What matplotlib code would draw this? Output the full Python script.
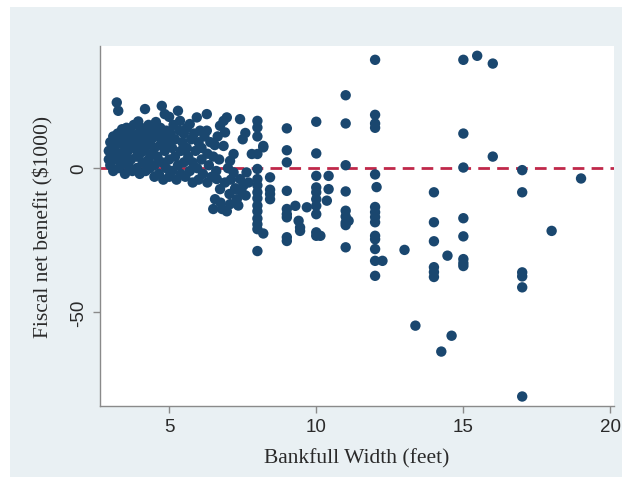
import matplotlib
matplotlib.use("Agg")
import matplotlib.pyplot as plt
from matplotlib.patches import Rectangle

plt.rcParams["axes.unicode_minus"] = False

# ---- data ----
width = [
    # dense cluster, x ~ 2.9 - 3.5
    2.95, 2.95, 3.0, 3.0, 3.05, 3.1, 3.1, 3.15, 3.2, 3.22, 3.27, 3.25, 3.3, 3.3, 3.35, 3.4, 3.4, 3.45, 3.5, 3.5, 3.5,
    # x ~ 3.5 - 4.0
    3.55, 3.6, 3.6, 3.65, 3.7, 3.7, 3.75, 3.8, 3.8, 3.85, 3.9, 3.9, 3.95, 3.95, 4.0, 4.0, 4.0,
    # x ~ 4.0 - 4.5
    4.05, 4.1, 4.1, 4.15, 4.18, 4.2, 4.2, 4.25, 4.3, 4.3, 4.35, 4.4, 4.4, 4.45, 4.5, 4.5, 4.5,
    # x ~ 4.5 - 5.0
    4.55, 4.6, 4.6, 4.65, 4.7, 4.7, 4.75, 4.75, 4.8, 4.8, 4.85, 4.85, 4.9, 4.9, 4.95, 5.0, 5.0, 5.0,
    # x ~ 5.0 - 5.5
    5.05, 5.1, 5.1, 5.15, 5.2, 5.2, 5.25, 5.3, 5.3, 5.35, 5.37, 5.4, 5.4, 5.45, 5.5, 5.5,
    # x ~ 5.5 - 6.0
    5.55, 5.6, 5.6, 5.65, 5.7, 5.7, 5.75, 5.8, 5.8, 5.85, 5.9, 5.94, 5.95, 6.0, 6.0,
    # x ~ 6.0 - 6.5
    6.05, 6.1, 6.1, 6.15, 6.2, 6.28, 6.28, 6.3, 6.3, 6.35, 6.4, 6.45, 6.5,
    # x ~ 6.5 - 7.8
    6.55, 6.6, 6.62, 6.65, 6.7, 6.73, 6.73, 6.75, 6.8, 6.85, 6.85, 6.9, 6.9, 6.96, 6.96, 7.0, 7.05, 7.07,
    7.1, 7.19, 7.19, 7.25, 7.3, 7.35, 7.41, 7.41, 7.45, 7.52, 7.59, 7.6, 7.63, 7.7, 7.81, 7.5,
    6.5, 6.56, 7.07, 7.24,
    # x = 8 column
    8.0, 8.0, 8.0, 8.2, 8.2, 8.0, 8.0, 8.0, 8.0, 8.0, 8.0, 8.0, 8.0, 8.0, 8.0, 8.0, 8.2, 8.0,
    8.43, 8.43, 8.43, 8.43,
    # x = 9
    9.0, 9.0, 9.0, 9.0, 9.0, 9.0, 9.0, 9.0, 9.0, 9.29, 9.4, 9.45, 9.45, 9.68,
    # x = 10
    10.0, 10.0, 10.0, 10.0, 10.0, 10.0, 10.0, 10.0, 10.0, 10.0, 10.14, 10.42, 10.42, 10.36,
    # x = 11
    11.0, 11.0, 11.0, 11.0, 11.0, 11.0, 11.0, 11.0, 11.1, 11.0,
    # x = 12
    12.0, 12.0, 12.0, 12.0, 12.0, 12.05, 12.0, 12.0, 12.0, 12.0, 12.0, 12.0, 12.0, 12.0, 12.25, 12.0,
    # sparse right part
    13.0, 13.37,
    14.0, 14.0, 14.0, 14.0, 14.0, 14.0, 14.46, 14.6, 14.25,
    15.0, 15.0, 15.0, 15.0, 15.0, 15.0, 15.0, 15.0,
    15.47, 16.0, 16.0,
    17.0, 17.0, 17.0, 17.0, 17.0, 17.0,
    18.0, 19.0,
]

benefit = [
    6, 3, 9, 1, 5, 11, -1, 7, 3, 22.8, 19.9, 12, 9, 0, 5, 13.5, 2, 8, 11, -2, 4,
    14, 6, 1, 9, 12, 3, -1, 7, 15, 10, 4, 0, 16.2, 12, 8, -2, 5,
    14, 10, 2, 6, 20.5, 12, -1, 8, 15, 3, 0, 10, 5, 13, -3, 7, 1,
    16, 11, 4, -2, 8, 14, 21.6, 2, 11, -4, 18.75, 6, 0, 13, 9, 17.8, 3, -3,
    12, 7, -1, 15, 4, 10, -4, 19.9, 1, 13, 16.4, 6, -2, 9, 12, 2,
    -3, 7, 14, 4, 15.3, -1, 10, 2, -5, 12, 6, 17.6, 0, 9, -4,
    13, 3, 7, -2, 11, 18.75, 13, 5, -5, 1, 9, -3, 4,
    8, -1, -3.8, 11, 3, 14.7, -7.3, -12, -14.2, 7.7, 16.4, 12.4, -5, 17.6, -15, 0, -9, 2.5,
    -4, 4.9, -1.5, -7, -10.8, -13, 17, -3.8, -8, -6.1, 12.2, -9.5, -1.5, -5, 4.9, 10,
    -14.2, -10.8, -12.5, -7.3,
    16.4, 14.1, 11, 7.7, 7.2, -0.3, -3.8, -6, -8.4, -10.5, -13, -15, -17.5, -19.5, -21.2, 4.9, -22.7, -28.8,
    -3.2, -7.5, -9, -10.8,
    13.8, 6.2, 2.0, -7.9, -14.2, -16, -17.1, -24, -25.3, -13.1, -18.3, -20.6, -21.8, -13.6,
    16.1, 5.1, -2.7, -6.7, -8.4, -10.8, -13.1, -16, -22.3, -23.5, -23.5, -2.7, -7.3, -11.3,
    25.3, 15.5, 1.0, -8.1, -14.8, -16.8, -18.9, -19.8, -18.3, -27.5,
    37.6, 18.5, 15.5, 14.0, -2.2, -6.6, -13.5, -15.3, -17, -18.8, -23.5, -24.7, -28.1, -32.2, -32.2, -37.4,
    -28.4, -54.7,
    -8.4, -18.8, -25.4, -34.4, -36.1, -37.8, -30.4, -58.2, -63.7,
    37.6, 12, 0.2, -17.4, -23.7, -31.6, -33, -34,
    39, 36.3, 4.0,
    -0.7, -8.4, -36.2, -37.6, -41.4, -79.3,
    -21.8, -3.6,
]

x_ticks = [5, 10, 15, 20]
y_ticks = [-50, 0]
x_label = "Bankfull Width (feet)"
y_label = "Fiscal net benefit ($1000)"
ref_value = 0

# ---- figure ----
W, H = 626, 485
fig = plt.figure(figsize=(W / 100, H / 100), dpi=100)
fig.patch.set_facecolor("white")
bg = Rectangle((10 / W, 1 - 478 / H), 612 / W, 470 / H,
               transform=fig.transFigure, facecolor="#e9f0f3",
               edgecolor="none", zorder=-10)
fig.add_artist(bg)

ax = fig.add_axes([100 / W, 1 - 407 / H, 514 / W, 360 / H])
ax.set_zorder(5)
ax.set_facecolor("white")
ax.axhline(ref_value, color="#c0284a", lw=2.0, dashes=(4.2, 2.6), zorder=2)
ax.scatter(width, benefit, s=56, color="#1a476f", edgecolors="none", zorder=3)

ax.set_xlim(2.65, 20.12)
ax.set_ylim(-82.6, 42.4)
ax.set_xticks(x_ticks)
ax.set_yticks(y_ticks)
for s in ("top", "right"):
    ax.spines[s].set_visible(False)
for s in ("left", "bottom"):
    ax.spines[s].set_color("#8a8a8a")
    ax.spines[s].set_linewidth(1.0)

ax.tick_params(axis="both", colors="#8a8a8a", length=5, width=1,
               labelsize=13.5, labelcolor="#2a2a2a", pad=4)
for lab in ax.get_xticklabels():
    lab.set_fontfamily("Liberation Sans")
for lab in ax.get_yticklabels():
    lab.set_fontfamily("Liberation Sans")
    lab.set_rotation(90)
    lab.set_va("center")

ax.set_xlabel(x_label, fontsize=15.5, family="Liberation Serif", color="#2a2a2a", labelpad=9)
ax.set_ylabel(y_label, fontsize=15.5, family="Liberation Serif", color="#2a2a2a", labelpad=12)

fig.savefig("out.png", dpi=100)
